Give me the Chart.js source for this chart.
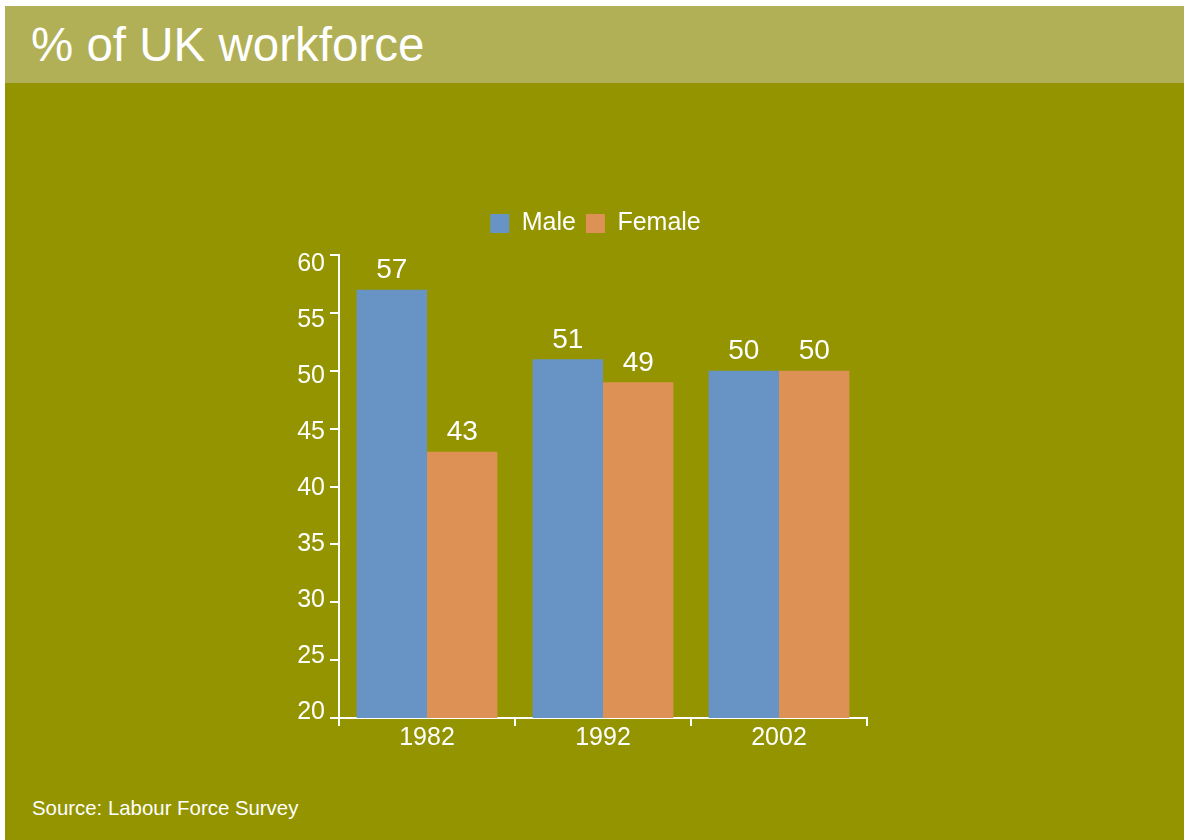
<!DOCTYPE html>
<html>
<head>
    <title>% of UK workforce</title>
    <script src="https://cdn.jsdelivr.net/npm/chart.js@4.4.1/dist/chart.umd.min.js"></script>
    <style>
        body { margin: 0; background: #ffffff; font-family: Arial, "Liberation Sans", sans-serif; }
        #panel { position: absolute; left: 5px; top: 6px; width: 1179px; height: 834px; background: #939400; }
        #titleBar { position: absolute; left: 5px; top: 6px; width: 1179px; height: 77px; background: #b1b056; }
        #title { position: absolute; left: 31px; top: 17px; color: #ffffff; font-size: 47.5px; line-height: 56px; white-space: nowrap; }
        #source { position: absolute; left: 32px; top: 796px; color: #ffffff; font-size: 20.4px; line-height: 24px; white-space: nowrap; }
        #wrap { position: absolute; left: 0; top: 0; width: 1184px; height: 840px; }
    </style>
</head>
<body>
    <div id="panel"></div>
    <div id="titleBar"></div>
    <div id="title">% of UK workforce</div>
    <div id="source">Source: Labour Force Survey</div>
    <div id="wrap">
        <canvas id="myChart" width="1184" height="840"></canvas>
    </div>

    <script>
        // categories and values
        var years = ['1982', '1992', '2002'];
        var maleShare = [57, 51, 50];
        var femaleShare = [43, 49, 50];
        var yTicks = [20, 25, 30, 35, 40, 45, 50, 55, 60];
        var yMin = 20;
        var yMax = 60;

        var fontFamily = 'Arial, "Liberation Sans", sans-serif';

        // writes each bar's value above it
        var valueLabels = {
            id: 'valueLabels',
            afterDatasetsDraw: function (chart) {
                var ctx = chart.ctx;
                ctx.save();
                ctx.fillStyle = '#ffffff';
                ctx.font = '28px ' + fontFamily;
                ctx.textAlign = 'center';
                ctx.textBaseline = 'bottom';
                chart.data.datasets.forEach(function (ds, i) {
                    var meta = chart.getDatasetMeta(i);
                    meta.data.forEach(function (bar, j) {
                        ctx.fillText(String(ds.data[j]), bar.x, bar.y - 5);
                    });
                });
                ctx.restore();
            }
        };

        // nudge the legend a little right of the full-width centre
        var legendShift = {
            id: 'legendShift',
            afterLayout: function (chart) {
                if (chart.legend) {
                    chart.legend.left += 22;
                    chart.legend.right += 22;
                }
            }
        };

        function setTicks(scale) {
            scale.ticks = yTicks.map(function (v) { return { value: v }; });
        }

        var ctx = document.getElementById('myChart').getContext('2d');
        var myChart = new Chart(ctx, {
            type: 'bar',
            data: {
                labels: years,
                datasets: [{
                    label: 'Male',
                    data: maleShare,
                    backgroundColor: 'rgb(103, 148, 197)'
                }, {
                    label: 'Female',
                    data: femaleShare,
                    backgroundColor: 'rgb(222, 145, 85)'
                }]
            },
            options: {
                responsive: false,
                animation: false,
                layout: {
                    padding: { left: 280, right: 317, top: 201, bottom: 62 }
                },
                datasets: {
                    bar: { categoryPercentage: 0.8, barPercentage: 1.0 }
                },
                plugins: {
                    legend: {
                        position: 'top',
                        labels: {
                            color: '#ffffff',
                            font: { family: fontFamily, size: 25 },
                            boxWidth: 19,
                            boxHeight: 19,
                            padding: 10
                        }
                    },
                    // empty spacer between legend and plot
                    title: {
                        display: true,
                        text: '',
                        weight: 100,
                        padding: 0,
                        font: { size: 9, lineHeight: 1 }
                    },
                    tooltip: { enabled: false }
                },
                scales: {
                    x: {
                        grid: {
                            display: true,
                            drawOnChartArea: false,
                            offset: true,
                            color: '#ffffff',
                            lineWidth: 2,
                            tickLength: 8
                        },
                        border: { display: true, color: '#ffffff', width: 2 },
                        ticks: {
                            color: '#ffffff',
                            font: { family: fontFamily, size: 25, lineHeight: 1 },
                            padding: 0
                        },
                        afterFit: function (scale) { scale.height = 60; }
                    },
                    // value axis: axis line and tick marks
                    y: {
                        min: yMin,
                        max: yMax,
                        afterBuildTicks: setTicks,
                        grid: {
                            display: true,
                            drawOnChartArea: false,
                            color: '#ffffff',
                            lineWidth: 2,
                            tickLength: 9
                        },
                        border: { display: true, color: '#ffffff', width: 2 },
                        ticks: { display: false },
                        afterFit: function (scale) { scale.width = 9; }
                    },
                    // tick labels, spaced a little tighter than the tick marks
                    yLabels: {
                        type: 'linear',
                        position: 'left',
                        weight: 1,
                        min: 19.46,
                        max: 60.8,
                        afterBuildTicks: setTicks,
                        grid: { display: false, drawTicks: false },
                        border: { display: false },
                        ticks: {
                            color: '#ffffff',
                            font: { family: fontFamily, size: 25 },
                            padding: 5
                        },
                        afterFit: function (scale) { scale.width = 50; }
                    }
                }
            },
            plugins: [valueLabels, legendShift]
        });
    </script>
</body>
</html>
